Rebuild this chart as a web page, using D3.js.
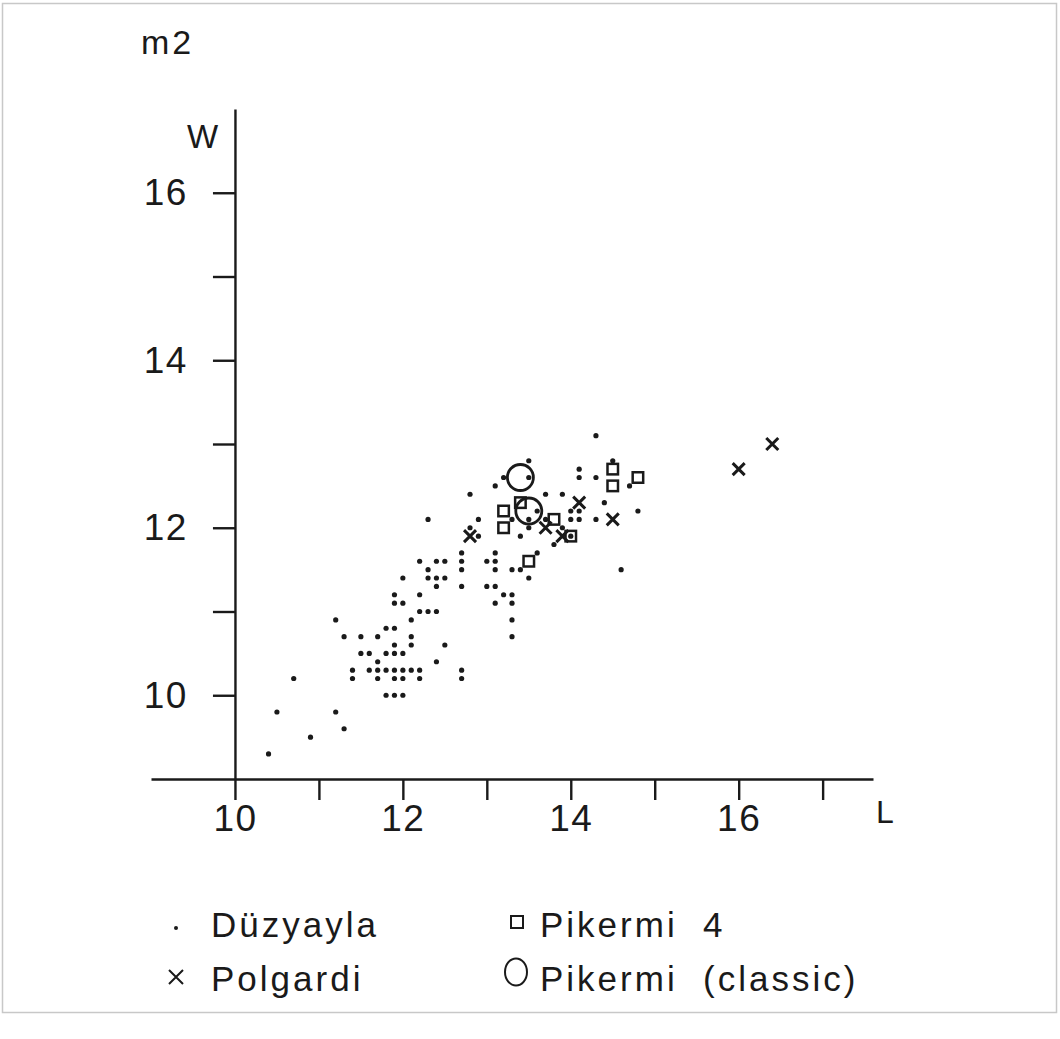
<!DOCTYPE html>
<html>
<head>
<meta charset="utf-8">
<script src="https://cdn.jsdelivr.net/npm/d3@7"></script>
<style>
  body { margin: 0; background: #fff; }
  svg text { font-family: "Liberation Sans", Arial, sans-serif; fill: #1a1a1a; }
</style>
</head>
<body>
<script>
// m2 length (L) vs width (W), in mm
var duzyayla = [
  [10.4,9.3],[10.5,9.8],[10.7,10.2],[10.9,9.5],[11.2,9.8],[11.3,9.6],[11.2,10.9],[11.3,10.7],
  [11.4,10.3],[11.4,10.2],[11.5,10.7],[11.5,10.5],[11.6,10.5],[11.6,10.3],
  [11.7,10.7],[11.7,10.4],[11.7,10.3],[11.7,10.2],
  [11.8,10.8],[11.8,10.5],[11.8,10.3],[11.8,10.0],
  [11.9,11.2],[11.9,11.1],[11.9,10.8],[11.9,10.6],[11.9,10.5],[11.9,10.3],[11.9,10.2],[11.9,10.0],
  [12.0,11.4],[12.0,11.1],[12.0,10.5],[12.0,10.3],[12.0,10.2],[12.0,10.0],
  [12.1,10.9],[12.1,10.7],[12.1,10.6],[12.1,10.3],
  [12.2,11.6],[12.2,11.2],[12.2,11.0],[12.2,10.3],[12.2,10.2],
  [12.3,12.1],[12.3,11.5],[12.3,11.4],[12.3,11.0],
  [12.4,11.6],[12.4,11.4],[12.4,11.3],[12.4,11.0],[12.4,10.4],
  [12.5,11.6],[12.5,11.4],[12.5,10.6],
  [12.7,11.7],[12.7,11.6],[12.7,11.5],[12.7,11.3],[12.7,10.3],[12.7,10.2],
  [12.8,12.4],[12.8,12.0],[12.9,12.1],[12.9,11.9],
  [13.0,11.6],[13.0,11.3],
  [13.1,12.5],[13.1,11.7],[13.1,11.6],[13.1,11.5],[13.1,11.3],[13.1,11.1],
  [13.2,12.6],[13.2,11.2],
  [13.3,12.1],[13.3,11.5],[13.3,11.2],[13.3,11.1],[13.3,10.9],[13.3,10.7],
  [13.4,11.9],[13.4,11.5],
  [13.5,12.8],[13.5,12.6],[13.5,12.1],[13.5,12.0],[13.5,11.4],
  [13.6,12.2],[13.6,11.7],
  [13.7,12.4],[13.7,12.1],[13.8,11.8],
  [13.9,12.4],[13.9,12.0],
  [14.0,12.2],[14.0,12.1],[14.0,11.9],
  [14.1,12.7],[14.1,12.6],[14.1,12.2],[14.1,12.1],
  [14.3,13.1],[14.3,12.6],[14.3,12.1],
  [14.4,12.3],[14.5,12.8],[14.6,11.5],[14.7,12.5],[14.8,12.2]
];
var polgardi = [[12.8,11.9],[13.7,12.0],[13.9,11.9],[14.1,12.3],[14.5,12.1],[16.0,12.7],[16.4,13.0]];
var pikermi4 = [[13.4,12.3],[13.2,12.2],[13.2,12.0],[13.8,12.1],[13.5,11.6],[14.0,11.9],[14.5,12.7],[14.5,12.5],[14.8,12.6]];
var pikermiClassic = [[13.4,12.6],[13.5,12.2]];

var xTicks = [10, 11, 12, 13, 14, 15, 16, 17];
var yTicks = [10, 11, 12, 13, 14, 15, 16];
var legendNames = ["Düzyayla", "Pikermi  4", "Polgardi", "Pikermi  (classic)"];

var ink = "#1a1a1a";

var svg = d3.select("body").append("svg")
  .attr("width", 1060)
  .attr("height", 1039);

// faint frame of the scanned page
svg.append("rect")
  .attr("x", 2.5).attr("y", 3.5).attr("width", 1054).attr("height", 1009)
  .attr("fill", "none").attr("stroke", "#c8c8c8").attr("stroke-width", 1.5);

var xScale = d3.scaleLinear().domain([9, 17.6]).range([151, 873]);
var yScale = d3.scaleLinear().domain([9, 17]).range([779, 109]);

var xAxis = d3.axisBottom(xScale)
  .tickValues(xTicks)
  .tickSize(21)
  .tickSizeOuter(0)
  .tickPadding(5)
  .tickFormat(function(d) { return d % 2 == 0 ? d : ""; });

var yAxis = d3.axisLeft(yScale)
  .tickValues(yTicks)
  .tickSize(22)
  .tickSizeOuter(0)
  .tickPadding(25)
  .tickFormat(function(d) { return d % 2 == 0 ? d : ""; });

var xAxisG = svg.append("g").attr("id", "xAxisG")
  .attr("transform", "translate(0," + yScale(9) + ")")
  .call(xAxis);

var yAxisG = svg.append("g").attr("id", "yAxisG")
  .attr("transform", "translate(" + xScale(10) + ",0)")
  .call(yAxis);

[xAxisG, yAxisG].forEach(function(g) {
  g.selectAll("path, line").attr("stroke", ink).attr("stroke-width", 2.4);
  g.selectAll("text")
    .style("font-size", "37px")
    .style("letter-spacing", "1.5px")
    .attr("fill", ink);
});

// axis names
svg.append("text").text("m2")
  .attr("x", 141).attr("y", 54)
  .style("font-size", "34px").style("letter-spacing", "3px");
svg.append("text").text("W")
  .attr("x", 187).attr("y", 148)
  .style("font-size", "33px");
svg.append("text").text("L")
  .attr("x", 876).attr("y", 823)
  .style("font-size", "32px");

// Düzyayla dots
svg.selectAll("circle.dot")
  .data(duzyayla)
  .enter()
  .append("circle")
  .attr("class", "dot")
  .attr("r", 2.6)
  .attr("cx", function(d) { return xScale(d[0]); })
  .attr("cy", function(d) { return yScale(d[1]); })
  .attr("fill", ink);

// Pikermi 4 squares
var sq = 10.5;
svg.selectAll("rect.pik4")
  .data(pikermi4)
  .enter()
  .append("rect")
  .attr("class", "pik4")
  .attr("x", function(d) { return xScale(d[0]) - sq / 2; })
  .attr("y", function(d) { return yScale(d[1]) - sq / 2; })
  .attr("width", sq).attr("height", sq)
  .attr("fill", "none").attr("stroke", ink).attr("stroke-width", 2.5);

// Polgardi crosses
svg.selectAll("path.polg")
  .data(polgardi)
  .enter()
  .append("path")
  .attr("class", "polg")
  .attr("d", function(d) {
    var cx = xScale(d[0]), cy = yScale(d[1]), h = 6;
    return "M" + (cx - h) + "," + (cy - h) + "L" + (cx + h) + "," + (cy + h) +
           "M" + (cx - h) + "," + (cy + h) + "L" + (cx + h) + "," + (cy - h);
  })
  .attr("stroke", ink).attr("stroke-width", 3).attr("fill", "none");

// Pikermi (classic) circles
svg.selectAll("circle.pikc")
  .data(pikermiClassic)
  .enter()
  .append("circle")
  .attr("class", "pikc")
  .attr("r", 13)
  .attr("cx", function(d) { return xScale(d[0]); })
  .attr("cy", function(d) { return yScale(d[1]); })
  .attr("fill", "none").attr("stroke", ink).attr("stroke-width", 2.8);

// legend
var legend = svg.append("g").attr("class", "legend");
var lx = [211, 540, 211, 540];
var ly = [937, 937, 991, 991];

legend.selectAll("text")
  .data(legendNames)
  .enter()
  .append("text")
  .text(function(d) { return d; })
  .attr("x", function(d, i) { return lx[i]; })
  .attr("y", function(d, i) { return ly[i]; })
  .style("font-size", "35px")
  .style("letter-spacing", "3px")
  .style("white-space", "pre");

legend.append("circle").attr("cx", 176).attr("cy", 928).attr("r", 2).attr("fill", ink);
legend.append("rect").attr("x", 511).attr("y", 916).attr("width", 12).attr("height", 12)
  .attr("fill", "none").attr("stroke", ink).attr("stroke-width", 2);
legend.append("path").attr("d", "M169,970L183,984M169,984L183,970")
  .attr("stroke", ink).attr("stroke-width", 2);
legend.append("ellipse").attr("cx", 516).attr("cy", 972).attr("rx", 11).attr("ry", 13.5)
  .attr("fill", "none").attr("stroke", ink).attr("stroke-width", 2);
</script>
</body>
</html>
